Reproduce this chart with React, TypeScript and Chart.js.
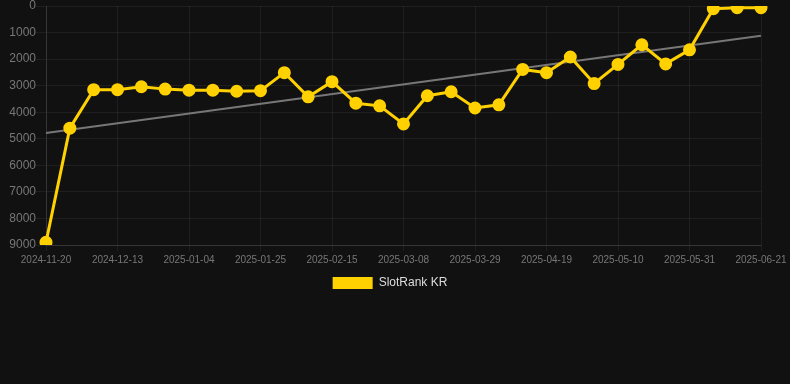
import React, { useEffect, useRef } from "react";
import { Chart, registerables } from "chart.js";

Chart.register(...registerables);

const dates = [
  "2024-11-20", "2024-11-29", "2024-12-06", "2024-12-13", "2024-12-20", "2024-12-27",
  "2025-01-04", "2025-01-11", "2025-01-18", "2025-01-25", "2025-02-01", "2025-02-08",
  "2025-02-15", "2025-02-22", "2025-03-01", "2025-03-08", "2025-03-15", "2025-03-22",
  "2025-03-29", "2025-04-05", "2025-04-12", "2025-04-19", "2025-04-26", "2025-05-03",
  "2025-05-10", "2025-05-17", "2025-05-24", "2025-05-31", "2025-06-07", "2025-06-14",
  "2025-06-21",
];

const rankValues = [
  8900, 4600, 3150, 3150, 3040, 3130, 3170, 3170, 3210, 3190, 2510, 3420,
  2850, 3660, 3760, 4440, 3380, 3230, 3840, 3720, 2390, 2510, 1920, 2920,
  2200, 1460, 2180, 1650, 100, 65, 65,
];

const trendStart = 4785;
const trendEnd = 1120;
const trendValues = dates.map((_, i) =>
  i === 0 ? trendStart : i === dates.length - 1 ? trendEnd : null
);

const yTicks = [0, 1000, 2000, 3000, 4000, 5000, 6000, 7000, 8000, 9000];

const GRID = "rgba(255,255,255,0.06)";

export default function App() {
  const ref = useRef<HTMLCanvasElement | null>(null);

  useEffect(() => {
    document.body.style.margin = "0";
    document.body.style.background = "#111111";
    if (!ref.current) return;
    const chart = new Chart(ref.current, {
      type: "line",
      data: {
        labels: dates,
        datasets: [
          {
            label: "SlotRank KR",
            data: rankValues,
            borderColor: "#FFD100",
            backgroundColor: "#FFD100",
            borderWidth: 3,
            pointRadius: 5,
            pointHoverRadius: 5,
            pointBackgroundColor: "#FFD100",
            pointBorderColor: "#FFD100",
            tension: 0,
          },
          {
            label: "trend",
            data: trendValues,
            borderColor: "#777777",
            backgroundColor: "#777777",
            borderWidth: 2,
            pointRadius: 0,
            spanGaps: true,
            tension: 0,
          },
        ],
      },
      options: {
        animation: false,
        responsive: true,
        maintainAspectRatio: false,
        layout: { autoPadding: false, padding: { left: 0, right: 10, top: 0, bottom: 0 } },
        plugins: {
          legend: {
            position: "bottom",
            labels: {
              color: "#dddddd",
              font: { family: "Arial, Liberation Sans, sans-serif", size: 12 },
              boxWidth: 40,
              boxHeight: 12,
              padding: 8,
              generateLabels: (c) =>
                Chart.defaults.plugins.legend.labels
                  .generateLabels(c)
                  .filter((it) => it.text === "SlotRank KR")
                  .map((it) => ({ ...it, lineWidth: 0 })),
            },
          },
          tooltip: { enabled: false },
        },
        scales: {
          x: {
            afterFit: (axis) => {
              axis.paddingRight = 29;
            },
            grid: {
              color: (ctx) => (ctx.index % 3 === 0 ? GRID : "rgba(0,0,0,0)"),
              tickLength: 6,
            },
            border: { color: "rgba(255,255,255,0.1)" },
            ticks: {
              color: "#777777",
              font: { family: "Arial, Liberation Sans, sans-serif", size: 10 },
              maxRotation: 0,
              autoSkip: false,
              padding: 3,
              callback: (_v, i) => (i % 3 === 0 ? dates[i] : ""),
            },
          },
          y: {
            reverse: true,
            min: 0,
            max: 9000,
            afterBuildTicks: (axis) => {
              axis.ticks = yTicks.map((v) => ({ value: v }));
            },
            afterFit: (axis) => {
              axis.width = 46;
            },
            grid: { color: GRID, tickLength: 10 },
            border: { color: "rgba(255,255,255,0.1)" },
            ticks: {
              color: "#777777",
              font: { family: "Arial, Liberation Sans, sans-serif", size: 12, lineHeight: 1 },
              padding: 0,
              callback: (v) => String(v),
            },
          },
        },
      },
    });
    return () => chart.destroy();
  }, []);

  return (
    <div style={{ width: 790, height: 384, background: "#111111" }}>
      <div style={{ width: 790, height: 299, position: "relative" }}>
        <canvas ref={ref} />
      </div>
    </div>
  );
}
